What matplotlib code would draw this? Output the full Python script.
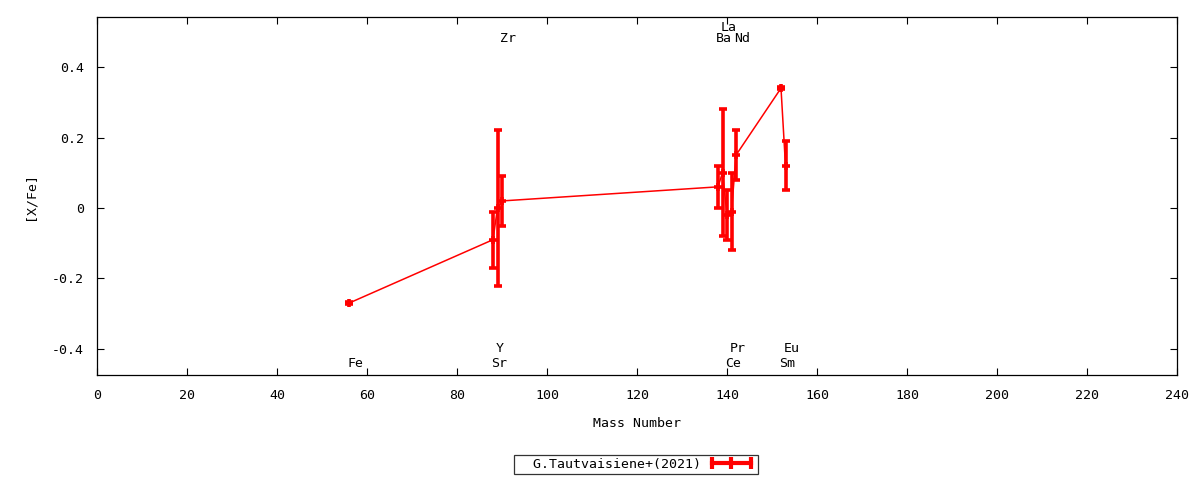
import matplotlib
matplotlib.use("Agg")
import matplotlib.pyplot as plt
from matplotlib.lines import Line2D

# data
elements = ["Fe", "Sr", "Y", "Zr", "Ba", "La", "Ce", "Pr", "Nd", "Sm", "Eu"]
mass = [56, 88, 89, 90, 138, 139, 140, 141, 142, 152, 153]
xfe = [-0.27, -0.09, 0.00, 0.02, 0.06, 0.10, -0.02, -0.01, 0.15, 0.34, 0.12]
err = [0.003, 0.08, 0.22, 0.07, 0.06, 0.18, 0.07, 0.11, 0.07, 0.003, 0.07]
label_y = [-0.44, -0.44, -0.40, 0.48, 0.48, 0.513, -0.44, -0.40, 0.48, -0.44, -0.40]
series_name = "G.Tautvaisiene+(2021)"
xticks = list(range(0, 241, 20))
yticks = [-0.4, -0.2, 0.0, 0.2, 0.4]

plt.rcParams['font.family'] = ['DejaVu Sans Mono']
plt.rcParams['font.size'] = 9.5

fig = plt.figure(figsize=(12, 4.8), dpi=100)
ax = fig.add_axes([97/1200, 1-375/480, (1177-97)/1200, (375-17)/480])

ax.errorbar(mass, xfe, yerr=err, color='#ff0000', lw=1.1, elinewidth=2.6,
            capsize=3, capthick=2.6, marker='+', markersize=6, mew=2.6)

for el, m, ly in zip(elements, mass, label_y):
    ax.text(m - 0.4, ly, el, ha='left', va='center', fontsize=9.5)

ax.set_xlim(0, 240)
ax.set_ylim(-0.474, 0.542)
ax.set_xticks(xticks)
ax.set_xticklabels([str(t) for t in xticks])
ax.set_yticks(yticks)
ax.set_yticklabels(["-0.4", "-0.2", "0", "0.2", "0.4"])
ax.tick_params(axis='x', direction='in', top=True, length=5, width=0.8, pad=10)
ax.tick_params(axis='y', direction='in', right=True, length=5, width=0.8, pad=9.5)
for s in ax.spines.values():
    s.set_linewidth(0.9)

ax.set_xlabel("Mass Number", labelpad=11)
ax.set_ylabel("[X/Fe]", labelpad=11)

handle = Line2D([], [], color='#ff0000', lw=3, marker='|', markersize=9, mew=3)
leg = fig.legend([handle], ["  " + series_name], loc='center',
                 bbox_to_anchor=(636/1200, 1-464.5/480),
                 markerfirst=False, numpoints=3, fancybox=False, frameon=True,
                 edgecolor='black', handlelength=3.6, borderpad=0.25, handletextpad=0.5,
                 borderaxespad=0)
leg.get_frame().set_linewidth(0.9)

fig.savefig("out.png", dpi=100)
